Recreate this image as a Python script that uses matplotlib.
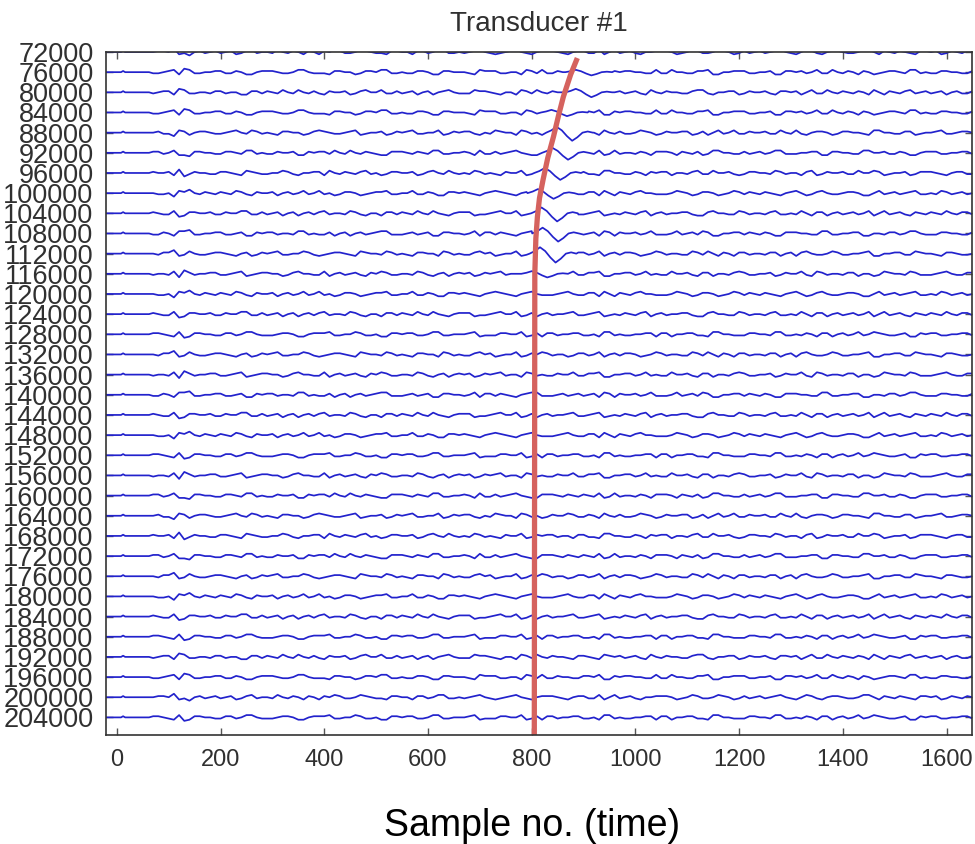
import numpy as np
import matplotlib.pyplot as plt

graphTitle = "Transducer #1"
xLabel = "Sample no. (time)"

# trace offsets (y tick labels)
offsets = list(range(72000, 204001, 4000))
xticks = [0, 200, 400, 600, 800, 1000, 1200, 1400, 1600]

# background ripple, one value per 20 samples (pixel units)
ripple_a = [0, -1, -3, 1, 0, 1, -1, 0, 2, -1, 1, 0, -2, 1, 0, -1, 2, 0, -1, 1,
            -2, 0, 1, -1, 0, 2, -1, 0, -2, 1, 1, -1, 0, 2, 0, -2, 1, 0, -1, 0,
            2, -1, 1, -2, 0, 1, -1, 2, 0, -1, 0, 1, -2, 1, 0, -1, 2, -1, 0, 1,
            -1, 0, 2, -2, 1, 0, -1, 1, 0, -2, 2, 0, -1, 1, -1, 0, 2, -1, 1, 0]
ripple_b = [1, 0, -2, -3, 1, 0, -1, 1, -1, 2, 0, -1, 0, 1, -2, 0, 1, 2, -1, 0,
            1, -1, -2, 1, 0, 1, -1, 2, -1, 0, 0, 2, -1, -1, 1, 0, -2, 1, 1, -1,
            0, 1, -1, -2, 2, 0, -1, 0, 1, 1, -2, 0, 1, -1, 2, 0, -1, -1, 1, 0,
            2, -1, 0, 1, -2, 1, 0, -1, 2, 0, 1, -1, 0, -2, 1, 1, -1, 0, 1, -1]
ripple_c = [-1, 1, -2, 2, -1, 0, 1, -1, 0, -2, 1, 1, -1, 0, 2, -1, -1, 1, 0, -2,
            1, 0, 2, -1, -1, 1, 0, -2, 1, 0, -1, 2, 1, -1, 0, -2, 1, 2, -1, 0,
            -1, 1, 0, -2, 1, 1, 0, -1, 2, -1, 0, -1, 1, 2, -2, 0, 1, -1, 0, 1,
            -2, 1, 1, 0, -1, 2, -1, 0, 1, -2, 0, 1, -1, 2, 0, -1, 1, 0, -1, 1]
ripples = [ripple_a, ripple_b, ripple_c]
# each trace: one ripple on even 10-sample steps, another on odd steps
trace_even = [0, 1, 2, 1, 0, 2, 1, 0, 2, 2, 0, 1, 0, 2, 1, 0, 1, 2,
              2, 0, 1, 1, 2, 0, 1, 2, 0, 0, 2, 1, 2, 1, 0, 1]
trace_odd = [1, 2, 0, 2, 2, 1, 0, 1, 0, 1, 2, 0, 1, 0, 2, 2, 0, 1,
             0, 1, 2, 0, 1, 2, 0, 1, 2, 1, 0, 2, 0, 2, 1, 2]
trace_sign = [1, 1, -1, 1, -1, 1, -1, -1, 1, -1, 1, 1, -1, 1, -1, 1, 1, -1,
              1, -1, -1, 1, 1, -1, -1, 1, 1, -1, 1, -1, -1, 1, 1, -1]

# flat lead-in before the noise starts
lead_x = [-20, 8, 12, 16, 62]
lead_y = [0, 0, -1, 0, 0]

# arrival wavelet (10-sample steps), per trace dip sample and amplitude
wavelet = [0, -2, -5, -2, 3, 7, 4, 0, -1, 0]
arrival_dip = [0, 915, 915, 868, 878, 870, 855, 842, 849, 851, 846, 830] + [0] * 22
arrival_amp = [0, 0.4, 0.6, 0.45, 1.0, 0.85, 0.85, 0.7, 1.0, 1.0, 1.1, 0.45] + [0] * 22

# picked arrival curve
red_x = [888, 875, 861, 852, 842, 831, 822, 815, 811, 808, 806, 805]
red_y = [73200, 76500, 80900, 84500, 88800, 93000, 97300, 101000, 104700, 109000, 116000, 207500]

px = 230  # data units per pixel

fig = plt.figure(figsize=(9.75, 8.44), dpi=100)
ax = fig.add_axes([0.1087, 0.1291, 0.8887, 0.8093])

for i, off in enumerate(offsets):
    ev = trace_sign[i] * np.array(ripples[trace_even[i]], dtype=float)
    od = -trace_sign[i] * np.array(ripples[trace_odd[i]], dtype=float)
    rx = np.empty(len(ev) + len(od))
    ry = np.empty(len(ev) + len(od))
    rx[0::2] = 70 + 20 * np.arange(len(ev))
    rx[1::2] = 80 + 20 * np.arange(len(od))
    ry[0::2] = ev
    ry[1::2] = od
    xs = list(lead_x)
    ys = list(lead_y)
    if arrival_amp[i] > 0:
        onset = arrival_dip[i] - 50
        wx = onset + 10 * np.arange(len(wavelet))
        wy = arrival_amp[i] * np.array(wavelet, dtype=float)
        keep1 = rx < onset
        keep2 = rx > wx[-1]
        xs += list(rx[keep1]) + list(wx) + list(rx[keep2])
        ys += list(ry[keep1]) + list(wy) + list(ry[keep2])
    else:
        xs += list(rx)
        ys += list(ry)
    ax.plot(xs, off + px * np.array(ys), color='#2222cc', lw=1.25)

ax.plot(red_x, red_y, color='#d5625e', lw=3.8, solid_capstyle='butt')

ax.set_xlim(-21, 1650)
ax.set_ylim(207500, 72000)
ax.set_xticks(xticks)
ax.set_yticks(offsets)
ax.set_xticklabels([str(v) for v in xticks], fontsize=17,
                   family=['Liberation Sans', 'DejaVu Sans'], color='#303030')
ax.set_yticklabels([str(v) for v in offsets], fontsize=19.5,
                   family=['Liberation Sans Narrow', 'Liberation Sans', 'DejaVu Sans'], color='#303030')
ax.tick_params(direction='in', length=5, width=1, color='#555555', top=True, right=True)
ax.tick_params(axis='x', pad=10)
ax.tick_params(axis='y', pad=9)
for s in ax.spines.values():
    s.set_color('#333333')
    s.set_linewidth(1.2)

ax.set_title(graphTitle, fontsize=20, color='#303030', pad=15,
             family=['Liberation Sans Narrow', 'Liberation Sans', 'DejaVu Sans'])
fig.text(532 / 975, 1 - 826 / 844, xLabel, fontsize=27, ha='center', va='center',
         family=['Liberation Sans', 'DejaVu Sans'])

fig.savefig('out.png', dpi=100)
